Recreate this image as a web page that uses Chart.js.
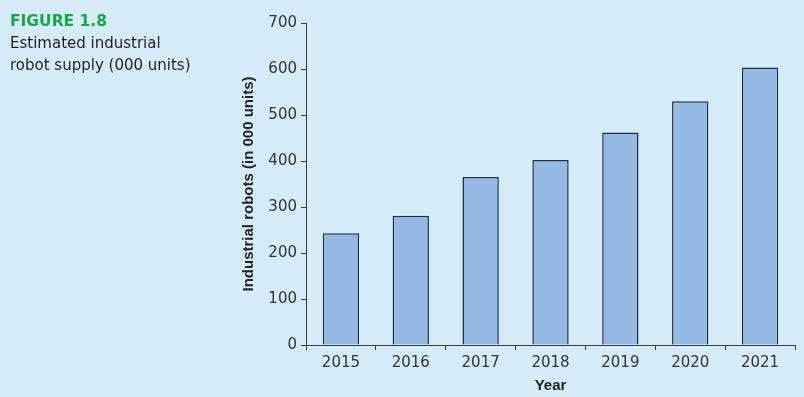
<!DOCTYPE html>
<html>
<head>
<meta charset="utf-8">
<script src="https://cdn.jsdelivr.net/npm/chart.js@4.4.1/dist/chart.umd.min.js"></script>
<style>
    html, body { margin: 0; padding: 0; background: #d5ebf8; }
    #wrap { position: relative; width: 804px; height: 397px; }
    #caption {
        position: absolute; left: 10px; top: 10px;
        font-family: "DejaVu Sans", sans-serif; font-size: 15px; line-height: 22px;
        color: #231f20;
    }
    #caption b { color: #1aa64a; font-size: 15.5px; }
    canvas { position: absolute; left: 0; top: 0; }
</style>
</head>
<body>
<div id="wrap">
    <canvas id="robotChart" width="804" height="397"></canvas>
    <div id="caption"><b>FIGURE 1.8</b><br>Estimated industrial<br>robot supply (000 units)</div>
</div>
<script>
const years = ['2015', '2016', '2017', '2018', '2019', '2020', '2021'];
const robots = [243, 281, 365, 402, 462, 530, 603];
const yTicks = [0, 100, 200, 300, 400, 500, 600, 700];

document.addEventListener('DOMContentLoaded', function () {
    const axisColor = '#3a3a3a';
    const tickFont = { family: 'DejaVu Sans', size: 15 };
    const titleFont = { family: 'Liberation Sans', size: 15, weight: 'bold' };

    const ctx = document.getElementById('robotChart').getContext('2d');
    new Chart(ctx, {
        type: 'bar',
        data: {
            labels: years,
            datasets: [{
                data: robots,
                backgroundColor: '#94bae3',
                borderColor: '#1f2e42',
                borderWidth: 1.5,
                categoryPercentage: 1,
                barPercentage: 0.52
            }]
        },
        options: {
            responsive: false,
            animation: false,
            layout: { padding: { left: 236, top: 23, right: 9, bottom: 0 } },
            plugins: { legend: { display: false }, tooltip: { enabled: false } },
            scales: {
                x: {
                    grid: { drawOnChartArea: false, tickLength: 5, color: axisColor },
                    border: { color: axisColor, width: 1 },
                    ticks: { color: '#333', font: tickFont, padding: 4, maxRotation: 0 },
                    title: { display: true, text: 'Year', color: '#222', font: titleFont, padding: { top: 0, bottom: 2 } },
                    afterFit: function (scale) { scale.height = 52; }
                },
                y: {
                    min: 0,
                    max: 700,
                    afterBuildTicks: function (scale) { scale.ticks = yTicks.map(v => ({ value: v })); },
                    grid: { drawOnChartArea: false, tickLength: 5, color: axisColor },
                    border: { color: axisColor, width: 1 },
                    ticks: { color: '#333', font: tickFont, padding: 4 },
                    title: { display: true, text: 'Industrial robots (in 000 units)', color: '#222', font: titleFont, padding: { top: 4, bottom: 0 } },
                    afterFit: function (scale) { scale.width = 70; }
                }
            }
        }
    });
});
</script>
</body>
</html>
